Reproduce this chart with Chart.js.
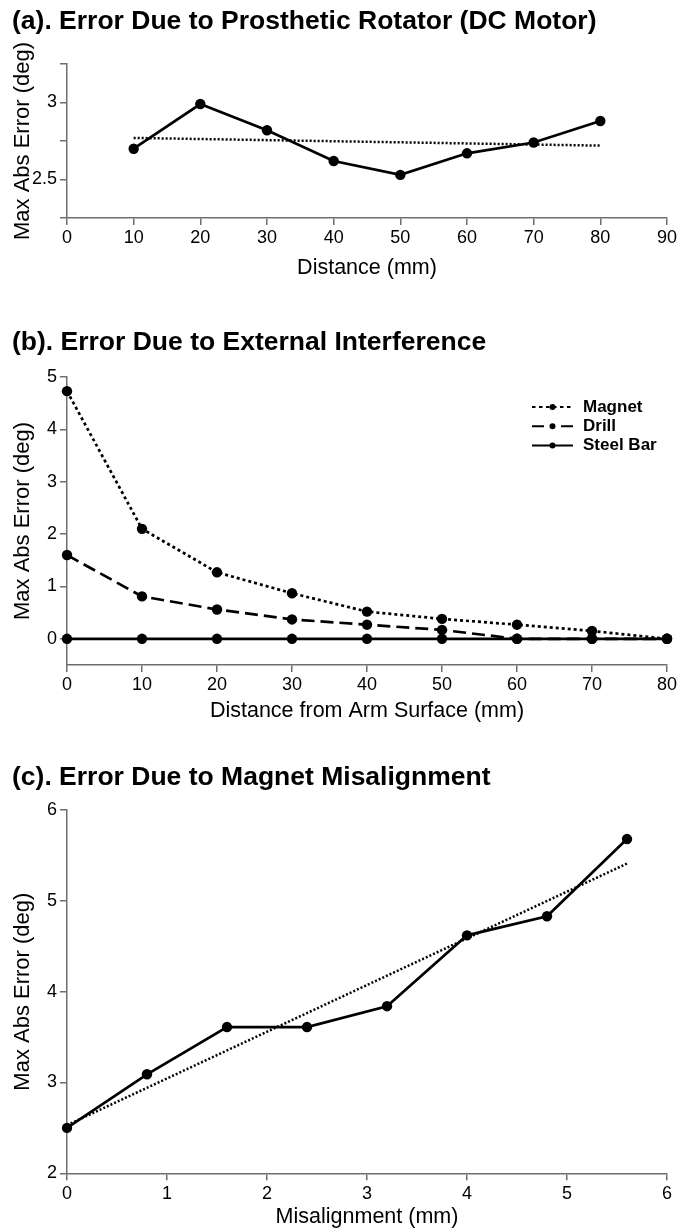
<!DOCTYPE html>
<html>
<head>
<meta charset="utf-8">
<script src="https://cdn.jsdelivr.net/npm/chart.js@4.4.1/dist/chart.umd.min.js"></script>
<style>
  html, body { margin: 0; padding: 0; background: #ffffff; }
  .wrap { position: relative; width: 681px; height: 1228px; overflow: hidden; }
  canvas { position: absolute; left: 0; display: block; }
</style>
</head>
<body>
<div class="wrap">
  <canvas id="chartA" width="681" height="300" style="top:0px"></canvas>
  <canvas id="chartB" width="681" height="440" style="top:300px"></canvas>
  <canvas id="chartC" width="681" height="488" style="top:740px"></canvas>
</div>
<script>
// ---------- DATA ----------
// (a) Error due to prosthetic rotator
const distanceA = [10, 20, 30, 40, 50, 60, 70, 80];
const errorA    = [2.70, 2.99, 2.82, 2.62, 2.53, 2.67, 2.74, 2.88];
const trendAx   = [10, 80];
const trendAy   = [2.77, 2.72];
const yLabelsA  = [2.5, 3];

// (b) Error due to external interference
const distanceB = [0, 10, 20, 30, 40, 50, 60, 70, 80];
const magnetB   = [4.73, 2.10, 1.27, 0.87, 0.52, 0.38, 0.27, 0.15, 0.00];
const drillB    = [1.60, 0.81, 0.56, 0.37, 0.27, 0.17, 0.00, 0.00, 0.00];
const steelB    = [0, 0, 0, 0, 0, 0, 0, 0, 0];
const seriesNamesB = ['Magnet', 'Drill', 'Steel Bar'];

// (c) Error due to magnet misalignment
const misalignC = [0, 0.8, 1.6, 2.4, 3.2, 4.0, 4.8, 5.6];
const errorC    = [2.50, 3.09, 3.61, 3.61, 3.84, 4.62, 4.83, 5.68];
const trendCx   = [0, 5.6];
const trendCy   = [2.53, 5.41];

const titles = [
  '(a). Error Due to Prosthetic Rotator (DC Motor)',
  '(b). Error Due to External Interference',
  '(c). Error Due to Magnet Misalignment'
];
const yTitle = 'Max Abs Error (deg)';
const xTitles = ['Distance (mm)', 'Distance from Arm Surface (mm)', 'Misalignment (mm)'];

// ---------- HELPERS ----------
const FONT = "'Liberation Sans', Arial, Helvetica, sans-serif";
Chart.defaults.font.family = FONT;
Chart.defaults.color = '#000';
const AXIS_COLOR = '#6f6f6f';

function pts(xs, ys) { return xs.map((x, i) => ({ x: x, y: ys[i] })); }

function axisCommon(extra) {
  return Object.assign({
    type: 'linear',
    grid: { display: true, drawOnChartArea: false, drawTicks: true, tickLength: 7,
            color: AXIS_COLOR, lineWidth: 1.5 },
    border: { display: true, color: AXIS_COLOR, width: 1.5 }
  }, extra);
}

function xAxis(min, max, step, text, height, titlePadBottom) {
  return axisCommon({
    position: 'bottom', min: min, max: max,
    ticks: { stepSize: step, color: '#000', font: { size: 18 }, padding: 2.5, maxRotation: 0 },
    title: { display: true, text: text, color: '#000', font: { size: 21.5, lineHeight: 1 },
             padding: { top: 0, bottom: titlePadBottom } },
    afterFit: function (s) { s.height = height; }
  });
}

function yAxis(min, max, step, labelFn, tickFilter) {
  return axisCommon({
    position: 'left', min: min, max: max,
    ticks: { stepSize: step, color: '#000', font: { size: 18 }, padding: 3,
             callback: labelFn || function (v) { return String(v); } },
    title: { display: true, text: yTitle, color: '#000', font: { size: 22, lineHeight: 1 },
             padding: { top: 0, bottom: 0 } },
    afterBuildTicks: function (s) { if (tickFilter) s.ticks = s.ticks.filter(tickFilter); },
    afterFit: function (s) { s.width = 55; }
  });
}

function titleOpts(text, padTop, padBottom) {
  return { display: true, text: text, align: 'start', color: '#000',
           font: { size: 26.5, weight: 'bold', lineHeight: 1.2 },
           padding: { top: padTop, bottom: padBottom } };
}

function mainLine(label, data, dash) {
  return { label: label, data: data, borderColor: '#000', backgroundColor: '#000',
           borderWidth: 2.7, borderDash: dash || [], tension: 0,
           pointRadius: 5.2, pointHoverRadius: 5.2, pointBackgroundColor: '#000',
           pointBorderWidth: 0, clip: false, fill: false };
}

function trendLine(data, dash) {
  return { label: '', data: data, borderColor: '#000', borderWidth: 2.5, borderDash: dash,
           pointRadius: 0, tension: 0, clip: false, fill: false, isTrend: true };
}

// legend drawn inside the plot area (chart b)
const insideLegend = {
  id: 'insideLegend',
  afterDatasetsDraw(chart, args, opts) {
    if (!opts || !opts.display) return;
    const ctx = chart.ctx, area = chart.chartArea;
    const items = chart.data.datasets.filter(d => d.label && !d.isTrend);
    items.forEach((ds, i) => {
      const y = area.top + opts.top + i * opts.rowGap;
      const x0 = area.right - opts.right;
      ctx.save();
      ctx.strokeStyle = ds.borderColor;
      ctx.lineWidth = opts.lineWidth;
      ctx.setLineDash(ds.legendDash || []);
      ctx.beginPath(); ctx.moveTo(x0, y); ctx.lineTo(x0 + opts.lineLen, y); ctx.stroke();
      ctx.setLineDash([]);
      ctx.fillStyle = ds.pointBackgroundColor;
      ctx.beginPath(); ctx.arc(x0 + opts.lineLen / 2, y, opts.pointRadius, 0, Math.PI * 2); ctx.fill();
      ctx.font = 'bold ' + opts.fontSize + 'px ' + FONT;
      ctx.fillStyle = '#000'; ctx.textAlign = 'left'; ctx.textBaseline = 'middle';
      ctx.fillText(ds.label, x0 + opts.lineLen + opts.textGap, y);
      ctx.restore();
    });
  }
};

const baseOpts = {
  responsive: false, animation: false, events: [],
  layout: { padding: { left: 12, right: 14, top: 0, bottom: 0 } }
};

// ---------- CHART A ----------
new Chart(document.getElementById('chartA'), {
  type: 'line',
  data: { datasets: [
    mainLine('Error', pts(distanceA, errorA)),
    trendLine(pts(trendAx, trendAy), [2, 2])
  ] },
  options: Object.assign({}, baseOpts, {
    plugins: { legend: { display: false }, tooltip: { enabled: false },
               title: titleOpts(titles[0], 5.6, 26.6) },
    scales: {
      x: xAxis(0, 90, 10, xTitles[0], 82, 21.5),
      y: yAxis(2.25, 3.25, 0.25, function (v) { return yLabelsA.includes(v) ? String(v) : ''; })
    }
  })
});

// ---------- CHART B ----------
const dsMagnet = mainLine(seriesNamesB[0], pts(distanceB, magnetB), [3, 3]);
dsMagnet.legendDash = [3.5, 3.5];
const dsDrill = mainLine(seriesNamesB[1], pts(distanceB, drillB), [13, 6]);
dsDrill.legendDash = [12, 17];
const dsSteel = mainLine(seriesNamesB[2], pts(distanceB, steelB));

new Chart(document.getElementById('chartB'), {
  type: 'line',
  data: { datasets: [dsMagnet, dsDrill, dsSteel] },
  plugins: [insideLegend],
  options: Object.assign({}, baseOpts, {
    plugins: { legend: { display: false }, tooltip: { enabled: false },
               title: titleOpts(titles[1], 26.6, 18.6),
               insideLegend: { display: true, top: 30, rowGap: 19.3, right: 135, lineLen: 41,
                               lineWidth: 2, pointRadius: 3, textGap: 10, fontSize: 17 } },
    scales: {
      x: xAxis(0, 80, 10, xTitles[1], 75, 17.8),
      y: yAxis(-0.5, 5, 1, null, function (t) { return t.value >= 0; })
    }
  })
});

// ---------- CHART C ----------
new Chart(document.getElementById('chartC'), {
  type: 'line',
  data: { datasets: [
    mainLine('Error', pts(misalignC, errorC)),
    trendLine(pts(trendCx, trendCy), [2, 2])
  ] },
  options: Object.assign({}, baseOpts, {
    plugins: { legend: { display: false }, tooltip: { enabled: false },
               title: titleOpts(titles[2], 21.6, 16.6) },
    scales: {
      x: xAxis(0, 6, 1, xTitles[2], 54.7, 0),
      y: yAxis(2, 6, 1)
    }
  })
});
</script>
</body>
</html>
